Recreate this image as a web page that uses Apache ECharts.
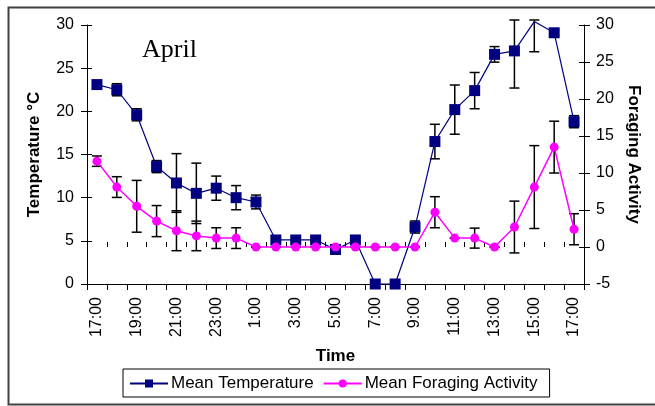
<!DOCTYPE html>
<html>
<head>
<meta charset="utf-8">
<script src="https://cdn.jsdelivr.net/npm/echarts@6/dist/echarts.min.js"></script>
<style>
html,body{margin:0;padding:0;background:#fff;}
#c{width:655px;height:406px;}
</style>
</head>
<body>
<div id="c"></div>
<script>
var categories = ["17:00","18:00","19:00","20:00","21:00","22:00","23:00","0:00","1:00","2:00","3:00","4:00","5:00","6:00","7:00","8:00","9:00","10:00","11:00","12:00","13:00","14:00","15:00","16:00","17:00"];
var meanTemperature = [23.1,22.5,19.6,13.6,11.7,10.5,11.1,10.0,9.5,5.1,5.1,5.1,4.0,5.1,0,0,6.6,16.5,20.2,22.4,26.6,27.0,30.4,29.1,18.8];
var temperatureError = [0.3,0.7,0.7,0.7,3.4,3.5,1.4,1.4,0.8,0.3,0.3,0.3,0.3,0.3,0,0,0.7,2.0,2.85,2.1,0.9,4.3,3.5,0.3,0.7];
var meanForaging = [11.6,8.1,5.5,3.5,2.2,1.5,1.2,1.2,0,0,0,0,0,0,0,0,0,4.7,1.2,1.2,0,2.7,8.1,13.5,2.4];
var foragingError = [0.7,1.4,3.5,2.1,2.7,2.0,1.4,1.4,0,0,0,0,0,0,0,0,0,2.1,0,1.35,0,3.5,5.6,3.5,2.1];
var leftTicks = {min:0, max:30, interval:5};
var rightTicks = {min:-5, max:30, interval:5};

var chart = echarts.init(document.getElementById('c'));

function errData(vals, errs){
  return vals.map(function(v,i){ return [i, v, errs[i]]; });
}
function errRender(params, api){
  var i = api.value(0), v = api.value(1), e = api.value(2);
  var top = api.coord([i, v + e]);
  var bot = api.coord([i, v - e]);
  var cs = params.coordSys;
  var ty = Math.max(top[1], cs.y - 5);
  var half = 5;
  var st = {stroke:'#000', lineWidth:1.5};
  return {type:'group', children:[
    {type:'line', shape:{x1:top[0], y1:ty, x2:bot[0], y2:bot[1]}, style:st},
    {type:'line', shape:{x1:top[0]-half, y1:ty, x2:top[0]+half, y2:ty}, style:st},
    {type:'line', shape:{x1:bot[0]-half, y1:bot[1], x2:bot[0]+half, y2:bot[1]}, style:st}
  ]};
}

var tempData = meanTemperature.map(function(v,i){
  return v > leftTicks.max ? {value:v, symbol:'none'} : v;
});

var font = 'Liberation Sans, Arial, sans-serif';
var option = {
  animation:false,
  backgroundColor:'#fff',
  textStyle:{fontFamily:font, color:'#000'},
  title:{text:'April', left:137, top:32, textStyle:{fontFamily:'Liberation Serif, Times New Roman, serif', fontSize:26, fontWeight:'normal', color:'#000'}},
  graphic:[{type:'rect', left:6, top:5, shape:{width:660, height:397}, style:{fill:'none', stroke:'#404040', lineWidth:2}, silent:true, z:-1}],
  grid:{left:87, right:71, top:25, bottom:122},
  legend:{
    left:123, top:369, orient:'horizontal',
    data:['Mean Temperature','Mean Foraging Activity'],
    itemWidth:38, itemHeight:10, itemGap:9,
    padding:[6,12,5,6],
    borderColor:'#000', borderWidth:1, borderRadius:0,
    textStyle:{fontSize:17, fontFamily:font, color:'#000', padding:[0,0,0,-2]}
  },
  xAxis:[{
    type:'category', data:categories, boundaryGap:true, position:'bottom',
    name:'Time', nameLocation:'middle', nameGap:64,
    nameTextStyle:{fontSize:17, fontWeight:'bold', color:'#000', fontFamily:font},
    axisLine:{lineStyle:{color:'#000', width:1}},
    axisTick:{show:true, interval:0, length:6, lineStyle:{color:'#000'}},
    axisLabel:{interval:1, rotate:90, fontSize:16, color:'#000', margin:13, fontFamily:font},
    splitLine:{show:false}
  },{
    type:'category', data:categories, boundaryGap:true, position:'bottom',
    axisLine:{show:false},
    axisTick:{show:true, inside:true, interval:0, length:5, lineStyle:{color:'#000'}},
    axisLabel:{show:false}, splitLine:{show:false}
  }],
  yAxis:[{
    type:'value', position:'left', min:leftTicks.min, max:leftTicks.max, interval:leftTicks.interval,
    name:'Temperature \u00B0C', nameLocation:'middle', nameGap:44, nameRotate:90,
    nameTextStyle:{fontSize:17, fontWeight:'bold', color:'#000', fontFamily:font},
    axisLine:{show:true, lineStyle:{color:'#000', width:1}},
    axisTick:{show:true, length:6, lineStyle:{color:'#000'}},
    axisLabel:{fontSize:16, color:'#000', margin:13, fontFamily:font},
    splitLine:{show:false}
  },{
    type:'value', position:'right', min:rightTicks.min, max:rightTicks.max, interval:rightTicks.interval,
    name:'Foraging Activity', nameLocation:'middle', nameGap:40, nameRotate:-90,
    nameTextStyle:{fontSize:17, fontWeight:'bold', color:'#000', fontFamily:font},
    axisLine:{show:true, lineStyle:{color:'#000', width:1}},
    axisTick:{show:true, length:6, lineStyle:{color:'#000'}},
    axisLabel:{fontSize:16, color:'#000', margin:12, fontFamily:font},
    splitLine:{show:false}
  },{
    type:'value', position:'left', min:leftTicks.min, max:leftTicks.max, interval:leftTicks.interval,
    axisLine:{show:false}, axisTick:{show:true, inside:true, length:5, lineStyle:{color:'#000'}},
    axisLabel:{show:false}, splitLine:{show:false}
  },{
    type:'value', position:'right', min:rightTicks.min, max:rightTicks.max, interval:rightTicks.interval,
    axisLine:{show:false}, axisTick:{show:true, inside:true, length:5, lineStyle:{color:'#000'}},
    axisLabel:{show:false}, splitLine:{show:false}
  }],
  series:[{
    type:'custom', name:'tempErr', xAxisIndex:0, yAxisIndex:0, z:1,
    renderItem:errRender, data:errData(meanTemperature, temperatureError),
    encode:{x:0, y:1}, silent:true, clip:false
  },{
    type:'custom', name:'forErr', xAxisIndex:0, yAxisIndex:1, z:1,
    renderItem:errRender, data:errData(meanForaging, foragingError),
    encode:{x:0, y:1}, silent:true, clip:false
  },{
    type:'line', name:'Mean Temperature', xAxisIndex:0, yAxisIndex:0, z:3,
    data:tempData, clip:false,
    symbol:'rect', symbolSize:11,
    lineStyle:{color:'#000080', width:1.2},
    itemStyle:{color:'#000080'}
  },{
    type:'line', name:'Mean Foraging Activity', xAxisIndex:0, yAxisIndex:1, z:4,
    data:meanForaging, clip:false,
    symbol:'circle', symbolSize:9,
    lineStyle:{color:'#FF00FF', width:1.5},
    itemStyle:{color:'#FF00FF'}
  }]
};
chart.setOption(option);
</script>
</body>
</html>
